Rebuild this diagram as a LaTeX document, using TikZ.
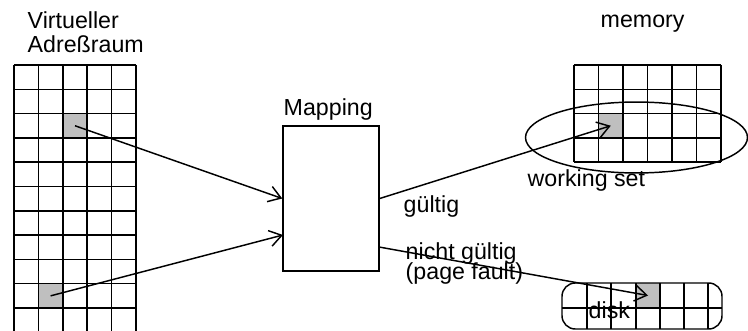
\documentclass[tikz,border=0pt]{standalone}
\usepackage{fontspec}
\setmainfont{Liberation Sans}
\usetikzlibrary{arrows.meta}
\tikzstyle{pagecell}=[rectangle,fill=black!25,minimum size=18.25pt,inner sep=0pt]
\tikzstyle{mapbox}=[rectangle,draw,minimum width=72pt,minimum height=108.75pt,inner sep=0pt]
\tikzstyle{txt}=[anchor=base west,inner sep=0pt]
\tikzstyle{conn}=[-{Straight Barb[length=9pt,width=12pt]}]

\begin{document}
\begin{tikzpicture}[x=0.75pt,y=-0.75pt,line width=1.1pt,font=\fontsize{17.4}{18}\selectfont]
      \useasboundingbox (0,0) rectangle (748,331);

      % virtual address space
      \begin{scope}
        \node[pagecell] (v1) at (75,125.75) {};
        \node[pagecell] (v2) at (50.6,295.85) {};
        \foreach \i in {0,...,5}
          \draw (14+24.4*\i,65) -- (14+24.4*\i,331);
        \foreach \j in {0,...,10}
          \draw (14,65+24.3*\j) -- (136,65+24.3*\j);
        \node[align=left,anchor=north west,inner sep=0pt] at (27,11.4) {Virtueller\\Adreßraum};
      \end{scope}

      % mapping
      \begin{scope}
        \node[mapbox] (map) at (331,198.5) {};
        \node[txt] at (283,116) {Mapping};
        \coordinate (in2) at (283,235);
        \coordinate (out2) at (379,247);
        \node[txt] at (403,213) {gültig};
        \node[align=left,anchor=north west,inner sep=0pt]
          at (405,242.4) {nicht gültig\\[-3.5pt](page fault)};
      \end{scope}

      % memory
      \begin{scope}
        \node[pagecell] (m1) at (610.75,125.75) {};
        \foreach \i in {0,...,6}
          \draw (574+24.5*\i,65) -- (574+24.5*\i,162.2);
        \foreach \j in {0,...,4}
          \draw (574,65+24.3*\j) -- (721,65+24.3*\j);
        \draw (636.5,137.5) ellipse [x radius=83.25pt, y radius=26.6pt];
        \node[txt] at (600,28) {memory};
        \node[txt] at (527,186) {working set};
      \end{scope}

      % disk
      \begin{scope}
        \node[pagecell] (d1) at (648,295.5) {};
        \foreach \x in {587,611,636,660,684,708}
          \draw (\x,283) -- (\x,329);
        \draw (562,308) -- (722,308);
        \draw[rounded corners=10pt] (562,283) rectangle (722,329);
        \node[txt] at (588,318) {disk};
      \end{scope}

      \draw[conn] (v1.center) -- (map.west);
      \draw[conn] (v2.center) -- (in2);
      \draw[conn] (map.east) -- (m1.center);
      \draw[conn] (out2) -- (d1.center);
    \end{tikzpicture}
\end{document}
